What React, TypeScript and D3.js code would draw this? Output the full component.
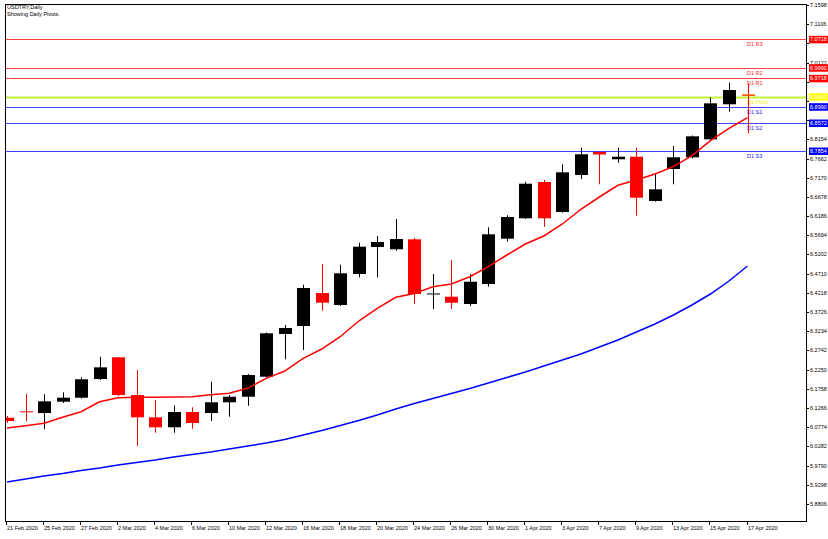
import React from 'react';
import * as d3 from 'd3';

const dates = [
  '21 Feb 2020','24 Feb 2020','25 Feb 2020','26 Feb 2020','27 Feb 2020','28 Feb 2020',
  '2 Mar 2020','3 Mar 2020','4 Mar 2020','5 Mar 2020','6 Mar 2020','9 Mar 2020','10 Mar 2020',
  '11 Mar 2020','12 Mar 2020','13 Mar 2020','16 Mar 2020','17 Mar 2020','18 Mar 2020','19 Mar 2020',
  '20 Mar 2020','23 Mar 2020','24 Mar 2020','25 Mar 2020','26 Mar 2020','27 Mar 2020','30 Mar 2020',
  '31 Mar 2020','1 Apr 2020','2 Apr 2020','3 Apr 2020','6 Apr 2020','7 Apr 2020','8 Apr 2020',
  '9 Apr 2020','10 Apr 2020','13 Apr 2020','14 Apr 2020','15 Apr 2020','16 Apr 2020','17 Apr 2020'
];

const opens = [6.1016,6.1180,6.1136,6.1426,6.1529,6.2008,6.2565,6.1598,6.1026,6.0770,6.1162,6.1136,6.1411,6.1554,6.2067,6.3162,6.3367,6.4213,6.3906,6.4701,6.5393,6.5334,6.5590,6.4188,6.4119,6.3931,6.4444,6.5606,6.6129,6.7060,6.6290,6.7239,6.7829,6.7642,6.7708,6.6572,6.7393,6.7693,6.8154,6.9052,6.9308];
const highs = [6.1060,6.1624,6.1616,6.1667,6.2052,6.2580,6.2573,6.2239,6.1470,6.1334,6.1283,6.1939,6.1598,6.2136,6.3201,6.3393,6.4426,6.4957,6.4939,6.5503,6.5675,6.6111,6.5631,6.4701,6.5060,6.4701,6.5898,6.6206,6.7067,6.7111,6.7513,6.7939,6.7842,6.7939,6.7939,6.7265,6.7983,6.8252,6.9231,6.9606,6.9590];
const lows = [6.0880,6.0931,6.0719,6.1393,6.1508,6.1983,6.1572,6.0290,6.0631,6.0631,6.0734,6.0931,6.1042,6.1324,6.2047,6.2513,6.2752,6.3760,6.3880,6.4616,6.4616,6.5298,6.3931,6.3803,6.3803,6.3880,6.4375,6.5529,6.6111,6.5913,6.6272,6.7136,6.7001,6.7554,6.6195,6.6559,6.7001,6.7667,6.8136,6.8862,6.8308];
const closes = [6.0931,6.1162,6.1436,6.1529,6.2001,6.2308,6.1598,6.1026,6.0770,6.1162,6.0880,6.1411,6.1554,6.2111,6.3180,6.3316,6.4342,6.3965,6.4719,6.5401,6.5521,6.5598,6.4188,6.4201,6.3965,6.4503,6.5719,6.6162,6.7016,6.6129,6.7308,6.7770,6.7765,6.7708,6.6657,6.6872,6.7693,6.8231,6.9077,6.9419,6.9265];

const maFast = [6.0752,6.0808,6.0872,6.1026,6.1170,6.1426,6.1529,6.1539,6.1539,6.1547,6.1554,6.1606,6.1642,6.1770,6.2026,6.2213,6.2539,6.2777,6.3093,6.3495,6.3821,6.4103,6.4201,6.4375,6.4444,6.4631,6.4888,6.5188,6.5470,6.5675,6.5983,6.6360,6.6675,6.6975,6.7111,6.7265,6.7452,6.7734,6.8119,6.8436,6.8708];
const maSlow = [5.9367,5.9444,5.9521,5.9585,5.9662,5.9726,5.9803,5.9867,5.9931,6.0008,6.0072,6.0136,6.0213,6.0290,6.0367,6.0457,6.0572,6.0688,6.0816,6.0944,6.1085,6.1239,6.1380,6.1508,6.1636,6.1765,6.1906,6.2047,6.2188,6.2342,6.2495,6.2649,6.2829,6.3008,6.3213,6.3419,6.3649,6.3906,6.4188,6.4521,6.4905];

const yTicks = [7.1598,7.1106,7.0614,7.0122,6.9630,6.9138,6.8646,6.8154,6.7662,6.7170,6.6678,6.6186,6.5694,6.5202,6.4710,6.4218,6.3726,6.3234,6.2742,6.2250,6.1758,6.1266,6.0774,6.0282,5.9790,5.9298,5.8806];

const pivotNames = ['R3','R2','R1','Pivot','S1','S2','S3'];
const pivotValues = [7.0718,6.9990,6.9718,6.9247,6.8990,6.8572,6.7854];

const titleLines = ['USDTRY,Daily','Showing Daily Pivots.'];

export default function App() {
  const W = 828, H = 539;
  const left = 5, right = 806, top = 4, bottom = 521;
  const x = d3.scaleLinear().domain([0, dates.length - 1]).range([7, 747.5]);
  const y = d3.scaleLinear().domain([5.8806, 7.1598]).range([503.9, 5]);
  const line = d3.line<number>().x((_, i) => x(i)).y(d => y(d));
  const bodyW = 13;
  const font = "'Liberation Sans', Arial, sans-serif";

  const pivotColor = (n: string) => n.startsWith('R') ? '#ff0000' : n.startsWith('S') ? '#0000ff' : '#c4ee3a';
  const pivotText = (n: string) => n.startsWith('R') ? '#ff2020' : n.startsWith('S') ? '#2020ff' : '#e8e800';
  const boxColor = (n: string) => n.startsWith('R') ? '#ff0000' : n.startsWith('S') ? '#0000ff' : '#ffff00';

  return (
    <svg width={W} height={H} style={{ position: 'fixed', left: 0, top: 0, background: '#fff' }}
      fontFamily={font}>
      <defs>
        <clipPath id="plot">
          <rect x={left} y={top} width={right - left} height={bottom - top} />
        </clipPath>
      </defs>
      <rect x={0} y={0} width={W} height={H} fill="#fff" />

      <g clipPath="url(#plot)">
        {pivotNames.map((n, i) => (
          <line key={n} x1={left} x2={right} y1={Math.round(y(pivotValues[i])) + 0.5} y2={Math.round(y(pivotValues[i])) + 0.5}
            stroke={pivotColor(n)} strokeWidth={n === 'Pivot' ? 2 : 1} strokeOpacity={n === 'Pivot' ? 1 : 0.75} />
        ))}
        {pivotNames.map((n, i) => (
          <text key={'t' + n} x={747} y={Math.round(y(pivotValues[i])) + 6.5} fontSize={5.5} fill={pivotText(n)}>
            {'D1 ' + n}
          </text>
        ))}

        {dates.map((d, i) => {
          const o = opens[i], c = closes[i];
          const up = c >= o;
          const col = up ? '#000' : '#ff0000';
          const cx = Math.round(x(i)) + 0.5;
          const yTop = y(Math.max(o, c)), yBot = y(Math.min(o, c));
          const h = Math.max(1, yBot - yTop);
          return (
            <g key={d}>
              <line x1={cx} x2={cx} y1={y(highs[i])} y2={y(lows[i])} stroke={col} strokeWidth={1} />
              <rect x={cx - bodyW / 2} y={yTop} width={bodyW} height={h} fill={i === dates.length - 1 ? '#ff5a10' : col} />
            </g>
          );
        })}

        <path d={line(maSlow) || ''} fill="none" stroke="#0000ff" strokeWidth={1.5} />
        <path d={line(maFast) || ''} fill="none" stroke="#ff0000" strokeWidth={1.5} />
      </g>

      <rect x={left + 0.5} y={top + 0.5} width={right - left} height={bottom - top} fill="none" stroke="#000" strokeWidth={1} />

      {titleLines.map((t, i) => (
        <text key={t} x={7} y={9 + i * 7} fontSize={5.5} fill="#000">{t}</text>
      ))}

      {yTicks.map(v => {
        const hidden = pivotValues.some(p => Math.abs(y(p) - y(v)) < 5);
        return (
          <g key={v}>
            <line x1={right} x2={right + 3} y1={Math.round(y(v)) + 0.5} y2={Math.round(y(v)) + 0.5} stroke="#000" />
            {hidden ? null : <text x={right + 4} y={y(v) + 2} fontSize={5.5} fill="#000">{v.toFixed(4)}</text>}
          </g>
        );
      })}

      {pivotNames.map((n, i) => (
        <g key={'b' + n}>
          <rect x={right + 3} y={y(pivotValues[i]) - 3.5} width={W - right - 3} height={7.5} fill={boxColor(n)} />
          <text x={right + 4} y={y(pivotValues[i]) + 2} fontSize={5.5} fill="#fff">
            {pivotValues[i].toFixed(4)}
          </text>
        </g>
      ))}

      {dates.map((d, i) => i % 2 === 0 ? (
        <g key={'x' + d}>
          <line x1={Math.round(x(i)) - 0.5} x2={Math.round(x(i)) - 0.5} y1={bottom} y2={bottom + 4} stroke="#000" />
          <text x={Math.round(x(i))} y={bottom + 9} fontSize={5.5} fill="#000">{d}</text>
        </g>
      ) : null)}
    </svg>
  );
}
